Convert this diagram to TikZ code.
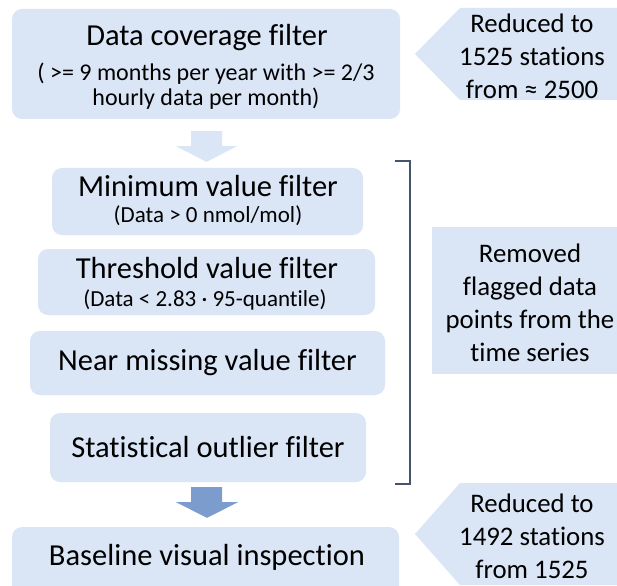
\documentclass[tikz,border=0pt]{standalone}
\usepackage{fontspec}
\setmainfont{Carlito}[RawFeature=-liga]
\usetikzlibrary{calc}
\definecolor{boxblue}{HTML}{DAE5F6}
\definecolor{arrowblue}{HTML}{7C9CCE}
\definecolor{brack}{HTML}{44546A}
\begin{document}
\begin{tikzpicture}[x=1pt,y=-1pt,
  box/.style={draw=none,fill=boxblue,rounded corners=10pt,inner sep=0pt},
  bigtxt/.style={font=\fontsize{30.5}{35}\selectfont,inner sep=0pt,align=center},
  subtxt/.style={font=\fontsize{24}{25}\selectfont,inner sep=0pt,align=center},
  smalltxt/.style={font=\fontsize{23}{25}\selectfont,inner sep=0pt,align=center},
  sidetxt/.style={font=\fontsize{26.8}{33}\selectfont,inner sep=0pt,align=center},
  pale/.style={fill=boxblue,draw=none},
  dark/.style={fill=arrowblue,draw=none},
  bracket/.style={draw=brack,line width=2pt}]
\clip (0,0) rectangle (617,585);
\fill[white] (0,0) rectangle (617,585);
% boxes
\node[box,minimum width=388pt,minimum height=110pt] (cov) at (206,64) {};
\node[box,minimum width=311pt,minimum height=67pt] (minf) at (207.5,201.5) {};
\node[box,minimum width=337pt,minimum height=66pt] (thr) at (206.5,282) {};
\node[box,minimum width=355pt,minimum height=64pt] (near) at (207.5,363) {};
\node[box,minimum width=316pt,minimum height=69pt] (stat) at (208,447.5) {};
\node[box,minimum width=387pt,minimum height=80pt] (base) at (205.5,567) {};
% right side shapes
\fill[boxblue] (432,227) rectangle (625,374);
\coordinate (rem) at (528.5,300.5);
\fill[boxblue] (415,54) -- (460,8) -- (625,8) -- (625,100) -- (460,100) -- cycle;
\coordinate (p1) at (415,54);
\fill[boxblue] (415,534) -- (460,483) -- (625,483) -- (625,585) -- (460,585) -- cycle;
\coordinate (p2) at (415,534);
% texts
\node[bigtxt] (covt) at (207,38) {Data coverage filter};
\node[subtxt] (covs) at (206,86) {( >= 9 months per year with >= 2/3\\hourly data per month)};
\node[bigtxt] (mint) at (208,186) {Minimum value filter};
\node[smalltxt] (mins) at (208,216) {(Data > 0 nmol/mol)};
\node[bigtxt] (thrt) at (207,268) {Threshold value filter};
\node[smalltxt] (thrs) at (205,300) {(Data < 2.83 · 95-quantile)};
\node[bigtxt] (neart) at (near) {Near missing value filter};
\node[bigtxt] (statt) at (stat) {Statistical outlier filter};
\node[bigtxt] (baset) at (207,557) {Baseline visual inspection};
\node[sidetxt] (remt) at (530,303) {Removed\\flagged data\\points from the\\time series};
\node[sidetxt] (p1t) at (532,56) {Reduced to\\1525 stations\\from ≈ 2500};
\node[sidetxt] (p2t) at (532,536) {Reduced to\\1492 stations\\from 1525};
% arrows
\fill[pale] ($(cov.south)+(-15,12)$) -- ++(31,0) -- ++(0,15) -- ++(15,0) -- ($(minf.north)+(-1,-6)$) -- ($(cov.south)+(-30,27)$) -- ++(15,0) -- cycle;
\fill[dark] ($(stat.south)+(-17,5)$) -- ++(31,0) -- ++(0,15) -- ++(16,0) -- ($(base.north)+(1.5,-9)$) -- ($(stat.south)+(-32,20)$) -- ++(15,0) -- cycle;
% bracket
\coordinate (bt) at (410,161);
\coordinate (bb) at (410,484);
\draw[bracket] ($(bt)+(-15,0)$) -- (bt) -- (bb) -- ($(bb)+(-15,0)$);
\end{tikzpicture}
\end{document}
